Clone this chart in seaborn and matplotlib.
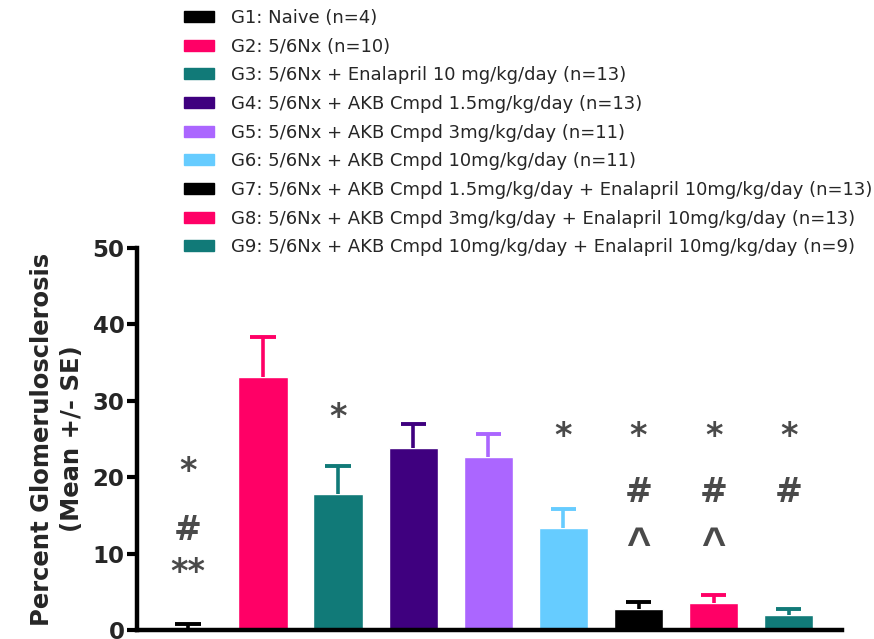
import numpy as np
import pandas as pd
import matplotlib
matplotlib.use("Agg")
import matplotlib.pyplot as plt
import matplotlib.patches as mpatches
import seaborn as sns

# Data
groups = ["G1", "G2", "G3", "G4", "G5", "G6", "G7", "G8", "G9"]
labels = [
    "G1: Naive (n=4)",
    "G2: 5/6Nx (n=10)",
    "G3: 5/6Nx + Enalapril 10 mg/kg/day (n=13)",
    "G4: 5/6Nx + AKB Cmpd 1.5mg/kg/day (n=13)",
    "G5: 5/6Nx + AKB Cmpd 3mg/kg/day (n=11)",
    "G6: 5/6Nx + AKB Cmpd 10mg/kg/day (n=11)",
    "G7: 5/6Nx + AKB Cmpd 1.5mg/kg/day + Enalapril 10mg/kg/day (n=13)",
    "G8: 5/6Nx + AKB Cmpd 3mg/kg/day + Enalapril 10mg/kg/day (n=13)",
    "G9: 5/6Nx + AKB Cmpd 10mg/kg/day + Enalapril 10mg/kg/day (n=9)",
]
means = [0.1, 33.1, 17.8, 23.8, 22.7, 13.3, 2.8, 3.5, 2.0]
sems = [0.7, 5.3, 3.7, 3.1, 3.0, 2.5, 0.8, 1.1, 0.8]
colors = ["#000000", "#FF0066", "#117A78", "#3F007F", "#AB66FF",
          "#66CCFF", "#000000", "#FF0066", "#117A78"]

# significance marks: (group index, symbol, y level)
marks = [
    (0, "*", 20.8), (0, "#", 13.0), (0, "**", 7.5),
    (2, "*", 27.8),
    (5, "*", 25.3),
    (6, "*", 25.3), (6, "#", 18.0), (6, "^", 12.2),
    (7, "*", 25.3), (7, "#", 18.0), (7, "^", 12.2),
    (8, "*", 25.3), (8, "#", 18.0),
]

df = pd.DataFrame({"group": groups, "mean": means, "sem": sems})

sns.set_style("ticks")
plt.rcParams["font.family"] = ["DejaVu Sans"]

fig = plt.figure(figsize=(8.74, 6.39), dpi=100)
ax = fig.add_axes([137 / 874, 9 / 639, 705 / 874, 382 / 639])

sns.barplot(data=df, x="group", y="mean", hue="group", palette=colors,
            width=0.66, legend=False, ax=ax, errorbar=None, saturation=1)

# upper-only SE bars
x = np.arange(len(groups))
tops = np.array(means) + np.array(sems)
ax.vlines(x, means, tops, colors=colors, linewidth=2.6, zorder=3)
ax.hlines(tops, x - 0.17, x + 0.17, colors=colors, linewidth=2.8, zorder=3)

for gi, sym, yv in marks:
    if sym == "^":
        # caret glyph sits high in its box, so anchor it on the baseline
        ax.text(gi, yv - 2.6, sym, ha="center", va="baseline", fontsize=30,
                fontweight="bold", color="#4a4a4a", family="Liberation Sans")
    else:
        ax.text(gi, yv, sym, ha="center", va="center", fontsize=24,
                fontweight="bold", color="#4a4a4a")

ax.set_ylim(0, 50)
ax.set_xlim(-0.68, 8.71)
ax.set_yticks([0, 10, 20, 30, 40, 50])
ax.set_xticks([])
ax.set_xlabel("")
ax.set_ylabel("Percent Glomerulosclerosis\n(Mean +/- SE)", fontsize=17.5,
              fontweight="bold", labelpad=6, linespacing=1.3)
for t in ax.get_yticklabels():
    t.set_fontweight("bold")
    t.set_fontsize(16.5)
ax.tick_params(axis="y", width=3, length=7, pad=2, color="black")
for side in ["left", "bottom"]:
    ax.spines[side].set_linewidth(3.2)
    ax.spines[side].set_color("black")
ax.spines["top"].set_visible(False)
ax.spines["right"].set_visible(False)

handles = [mpatches.Patch(color=c, label=l) for c, l in zip(colors, labels)]
fig.legend(handles=handles, loc="upper left", bbox_to_anchor=(184 / 874, 1 - 9 / 639),
           frameon=False, fontsize=13, handlelength=1.67, handleheight=0.55,
           labelspacing=0.59, handletextpad=0.94, borderaxespad=0, borderpad=0)

fig.savefig("out.png", dpi=100)
